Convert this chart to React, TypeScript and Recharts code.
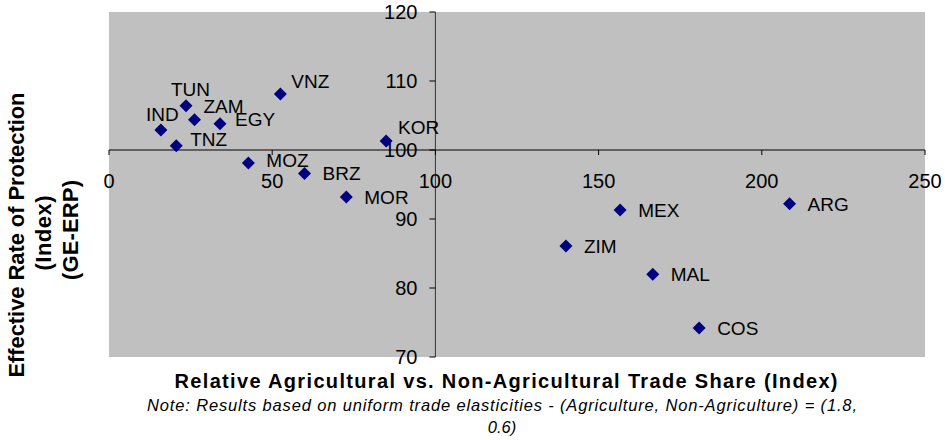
import React from "react";
import {
  ScatterChart,
  Scatter,
  XAxis,
  YAxis,
  CartesianGrid,
  ReferenceLine,
  ReferenceDot,
  Customized,
} from "recharts";

// values
const countries = ["IND", "TUN", "ZAM", "EGY", "TNZ", "VNZ", "MOZ", "BRZ", "MOR", "KOR", "ZIM", "MEX", "MAL", "COS", "ARG"];
const tradeShare = [15.9, 23.6, 26.2, 34.0, 20.6, 52.5, 42.7, 59.9, 72.7, 84.9, 140.0, 156.6, 166.6, 180.8, 208.5];
const erp = [102.9, 106.4, 104.4, 103.8, 100.6, 108.1, 98.1, 96.6, 93.2, 101.3, 86.1, 91.3, 82.0, 74.2, 92.2];

const xTicks = [0, 50, 100, 150, 200, 250];
const yTicks = [70, 80, 90, 100, 110, 120];

const FONT = "'Liberation Sans', Arial, sans-serif";
const NAVY = "#000080";

// hand-placed data labels (offsets from the marker, px)
const labelOffset: Record<string, [number, number]> = {
  IND: [-15, -16],
  TUN: [-15, -17],
  ZAM: [9, -14],
  EGY: [15, -5],
  TNZ: [14, -7],
  VNZ: [11, -13],
  MOZ: [18, -3],
  KOR: [12, -14],
};

const points = countries.map((name, i) => ({ name, x: tradeShare[i], y: erp[i] }));

function Diamond(props: any) {
  const { cx, cy, payload } = props;
  const s = 6.5;
  const [dx, dy] = labelOffset[payload.name] ?? [18, 0];
  return (
    <g>
      <polygon
        points={`${cx},${cy - s} ${cx + s},${cy} ${cx},${cy + s} ${cx - s},${cy}`}
        fill={NAVY}
      />
      <text x={cx + dx} y={cy + dy + 7} fontSize={19} fontFamily={FONT} fill="#000">
        {payload.name}
      </text>
    </g>
  );
}

const xTick = (label: number) => (p: any) => (
  <g>
    <line x1={p.cx} y1={p.cy} x2={p.cx} y2={p.cy + 5} stroke="#000" />
    <text x={p.cx} y={p.cy + 38} textAnchor="middle" fontSize={20} fontFamily={FONT} fill="#000">
      {label}
    </text>
  </g>
);

const yTick = (label: number) => (p: any) => (
  <g>
    <line x1={p.cx} y1={p.cy} x2={p.cx - 6} y2={p.cy} stroke="#000" />
    <text x={p.cx - 18} y={p.cy + 7} textAnchor="end" fontSize={20} fontFamily={FONT} fill="#000">
      {label}
    </text>
  </g>
);

function Titles() {
  return (
    <g fontFamily={FONT} fill="#000">
      <g transform="rotate(-90)" fontWeight="bold" fontSize={22} textAnchor="middle">
        <text x={-235} y={24} textLength={285} lengthAdjust="spacing">
          Effective Rate of Protection
        </text>
        <text x={-233} y={51} textLength={75} lengthAdjust="spacing">
          (Index)
        </text>
        <text x={-230} y={78} textLength={100} lengthAdjust="spacing">
          (GE-ERP)
        </text>
      </g>
      <text x={506} y={388} textAnchor="middle" fontWeight="bold" fontSize={20} textLength={663} lengthAdjust="spacing">
        Relative Agricultural vs. Non-Agricultural Trade Share (Index)
      </text>
      <text x={502} y={411} textAnchor="middle" fontStyle="italic" fontSize={16.5} textLength={710} lengthAdjust="spacing">
        Note: Results based on uniform trade elasticities - (Agriculture, Non-Agriculture) = (1.8,
      </text>
      <text x={502} y={433} textAnchor="middle" fontStyle="italic" fontSize={16.5}>
        0.6)
      </text>
    </g>
  );
}

export default function App() {
  return (
    <div style={{ position: "absolute", left: 0, top: 0, width: 945, height: 440, background: "#fff" }}>
      <ScatterChart width={945} height={440} margin={{ top: 12, right: 20, bottom: 83, left: 109 }}>
        <CartesianGrid fill="#c0c0c0" horizontal={false} vertical={false} />
        <XAxis type="number" dataKey="x" domain={[0, 250]} ticks={xTicks} hide allowDataOverflow />
        <YAxis type="number" dataKey="y" domain={[70, 120]} ticks={yTicks} hide allowDataOverflow />
        <ReferenceLine y={100} stroke="#000" strokeWidth={1} ifOverflow="visible" />
        <ReferenceLine x={100} stroke="#333" strokeWidth={1} ifOverflow="visible" />
        {xTicks.map((t) => (
          <ReferenceDot key={`x${t}`} x={t} y={100} r={0} ifOverflow="visible" shape={xTick(t)} />
        ))}
        {yTicks.map((t) => (
          <ReferenceDot key={`y${t}`} x={100} y={t} r={0} ifOverflow="visible" shape={yTick(t)} />
        ))}
        <Scatter data={points} shape={Diamond} isAnimationActive={false} />
        <Customized component={Titles} />
      </ScatterChart>
    </div>
  );
}
